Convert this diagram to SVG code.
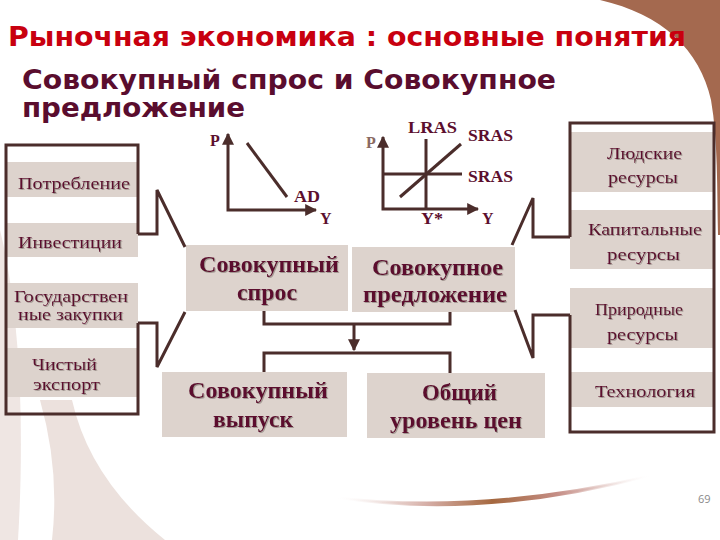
<svg xmlns="http://www.w3.org/2000/svg" width="720" height="540" viewBox="0 0 720 540">
<defs>
<style>
.ln{fill:none;stroke:#4b2d2b;stroke-width:3;stroke-linejoin:miter}
.box{fill:#ddd3cd}
.t1{font-family:"DejaVu Sans Condensed","Noto Sans",sans-serif;font-weight:bold;font-size:27px;fill:#c8000f}
.t2{font-family:"DejaVu Sans Condensed","Noto Sans",sans-serif;font-weight:bold;font-size:27px;fill:#5a0d2e}
.s{font-family:"Liberation Serif","Times New Roman",serif;fill:#5c0f2e;text-anchor:start}
.sm{font-size:17px;filter:url(#sh)}
.bg{font-size:23px;font-weight:bold;filter:url(#sh)}
.gr{font-size:16px;font-weight:bold}
</style>
<filter id="sh" x="-10%" y="-20%" width="120%" height="140%">
<feDropShadow dx="1" dy="1" stdDeviation="0.5" flood-color="#8a7f7a" flood-opacity="0.7"/>
</filter>
<marker id="ah" viewBox="0 0 10 10" refX="9" refY="5" markerWidth="4" markerHeight="4" orient="auto-start-reverse" markerUnits="strokeWidth">
<path d="M0,0 L10,5 L0,10 Z" fill="#4b2d2b"/>
</marker>
<linearGradient id="arc" x1="333" y1="0" x2="653" y2="0" gradientUnits="userSpaceOnUse">
<stop offset="0" stop-color="#ffffff" stop-opacity="0"/>
<stop offset="0.3" stop-color="#d4aca4"/>
<stop offset="0.5" stop-color="#a5683f"/>
<stop offset="0.7" stop-color="#c58e86"/>
<stop offset="1" stop-color="#ffffff" stop-opacity="0"/>
</linearGradient>
</defs>

<!-- background decoration -->
<rect x="0" y="0" width="720" height="540" fill="#ffffff"/>
<path d="M0,230 C22,320 24,440 18,540 L0,540 Z" fill="#efe6e3"/>
<path d="M40,400 Q60,470 52,540 L165,540 Q90,480 72,400 Z" fill="#ece1dd"/>
<path d="M600,0 C662,14 700,50 711,100 C718,140 717,190 718,235 L720,235 L720,0 Z" fill="#a4694f"/>
<path d="M333,497 Q480,521 653,475 Q480,515 333,497 Z" fill="url(#arc)" stroke="url(#arc)" stroke-width="2"/>
<text x="698" y="503" font-family="'Open Sans','DejaVu Sans',sans-serif" font-size="11" fill="#8a8a8a">69</text>

<!-- titles -->
<text class="t1" x="8" y="46" textLength="678" lengthAdjust="spacingAndGlyphs">Рыночная экономика : основные понятия</text>
<text class="t2" x="22" y="89" textLength="534" lengthAdjust="spacingAndGlyphs">Совокупный спрос и Совокупное</text>
<text class="t2" x="22" y="117" textLength="223" lengthAdjust="spacingAndGlyphs">предложение</text>

<!-- left boxes -->
<g id="n-potreblenie"><rect class="box" x="7" y="162" width="131" height="35"/>
<text class="s sm" x="18" y="189" textLength="112" lengthAdjust="spacingAndGlyphs">Потребление</text></g>
<g id="n-investicii"><rect class="box" x="7" y="223" width="131" height="34"/>
<text class="s sm" x="18" y="248" textLength="104" lengthAdjust="spacingAndGlyphs">Инвестиции</text></g>
<g id="n-goszakupki"><rect class="box" x="7" y="283" width="131" height="45"/>
<text class="s sm" x="14" y="302" textLength="114" lengthAdjust="spacingAndGlyphs">Государствен</text>
<text class="s sm" x="18" y="320" textLength="105" lengthAdjust="spacingAndGlyphs">ные закупки</text></g>
<g id="n-export"><rect class="box" x="7" y="348" width="131" height="49"/>
<text class="s sm" x="32" y="370" textLength="65" lengthAdjust="spacingAndGlyphs">Чистый</text>
<text class="s sm" x="33" y="390" textLength="67" lengthAdjust="spacingAndGlyphs">экспорт</text></g>

<!-- center boxes -->
<g id="n-ad"><rect class="box" x="186" y="245" width="162" height="66"/>
<text class="s bg" x="199" y="272" textLength="140" lengthAdjust="spacingAndGlyphs">Совокупный</text>
<text class="s bg" x="237" y="300" textLength="60" lengthAdjust="spacingAndGlyphs">спрос</text></g>
<g id="n-as"><rect class="box" x="352" y="247" width="163" height="65"/>
<text class="s bg" x="372" y="275" textLength="131" lengthAdjust="spacingAndGlyphs">Совокупное</text>
<text class="s bg" x="363" y="302" textLength="144" lengthAdjust="spacingAndGlyphs">предложение</text></g>
<g id="n-output"><rect class="box" x="162" y="372" width="185" height="65"/>
<text class="s bg" x="188" y="398" textLength="140" lengthAdjust="spacingAndGlyphs">Совокупный</text>
<text class="s bg" x="213" y="427" textLength="80" lengthAdjust="spacingAndGlyphs">выпуск</text></g>
<g id="n-prices"><rect class="box" x="367" y="373" width="178" height="65"/>
<text class="s bg" x="422" y="400" textLength="75" lengthAdjust="spacingAndGlyphs">Общий</text>
<text class="s bg" x="390" y="428" textLength="132" lengthAdjust="spacingAndGlyphs">уровень цен</text></g>

<!-- right boxes -->
<g id="n-human"><rect class="box" x="570" y="132" width="144" height="60"/>
<text class="s sm" x="607" y="159" textLength="75" lengthAdjust="spacingAndGlyphs">Людские</text>
<text class="s sm" x="608" y="183" textLength="70" lengthAdjust="spacingAndGlyphs">ресурсы</text></g>
<g id="n-capital"><rect class="box" x="570" y="210" width="144" height="59"/>
<text class="s sm" x="588" y="235" textLength="114" lengthAdjust="spacingAndGlyphs">Капитальные</text>
<text class="s sm" x="607" y="260" textLength="73" lengthAdjust="spacingAndGlyphs">ресурсы</text></g>
<g id="n-natural"><rect class="box" x="570" y="288" width="144" height="60"/>
<text class="s sm" x="595" y="315" textLength="88" lengthAdjust="spacingAndGlyphs">Природные</text>
<text class="s sm" x="607" y="340" textLength="71" lengthAdjust="spacingAndGlyphs">ресурсы</text></g>
<g id="n-tech"><rect class="box" x="570" y="372" width="144" height="35"/>
<text class="s sm" x="595" y="397" textLength="100" lengthAdjust="spacingAndGlyphs">Технология</text></g>

<!-- graphs -->
<g id="n-graph-ad">
<path class="ln" d="M228,134 L228,210 L316,210" marker-start="url(#ah)" marker-end="url(#ah)"/>
<path class="ln" d="M247,143 L287,197"/>
<text class="s gr" x="210" y="146">P</text>
<text class="s gr" x="294" y="202" textLength="26" lengthAdjust="spacingAndGlyphs">AD</text>
<text class="s gr" x="320" y="224">Y</text>
</g>
<g id="n-graph-as">
<path class="ln" d="M383,137 L383,209 L478,209" marker-start="url(#ah)" marker-end="url(#ah)"/>
<path class="ln" d="M426,139 L426,209"/>
<path class="ln" d="M383,174 L462,174"/>
<path class="ln" d="M400,197 L461,144"/>
<text class="s gr" x="366" y="148" font-weight="normal" style="fill:#8a6a62">P</text>
<text class="s gr" x="408" y="133" textLength="49" lengthAdjust="spacingAndGlyphs">LRAS</text>
<text class="s gr" x="468" y="141" textLength="45" lengthAdjust="spacingAndGlyphs">SRAS</text>
<text class="s gr" x="468" y="182" textLength="45" lengthAdjust="spacingAndGlyphs">SRAS</text>
<text class="s gr" x="421" y="224" font-weight="normal" textLength="22" lengthAdjust="spacingAndGlyphs">Y*</text>
<text class="s gr" x="482" y="224" font-weight="normal">Y</text>
</g>

<!-- connectors -->
<g id="connectors">
<path class="ln" d="M138,234 L138,145 L6,145 L6,414 L138,414 L138,323"/>
<path class="ln" d="M138,234 L157,234 L157,190 L185,247"/>
<path class="ln" d="M138,323 L157,323 L157,367 L185,312"/>
<path class="ln" d="M570,237 L570,123 L714,123 L714,432 L570,432 L570,315"/>
<path class="ln" d="M570,237 L533,237 L533,198 L512,245"/>
<path class="ln" d="M570,315 L533,315 L533,358 L515,310"/>
<path class="ln" d="M264,311 L264,324 L450,324 L450,312"/>
<path class="ln" d="M354,324 L354,350" marker-end="url(#ah)"/>
<path class="ln" d="M264,372 L264,353 L450,353 L450,373"/>
</g>
</svg>
